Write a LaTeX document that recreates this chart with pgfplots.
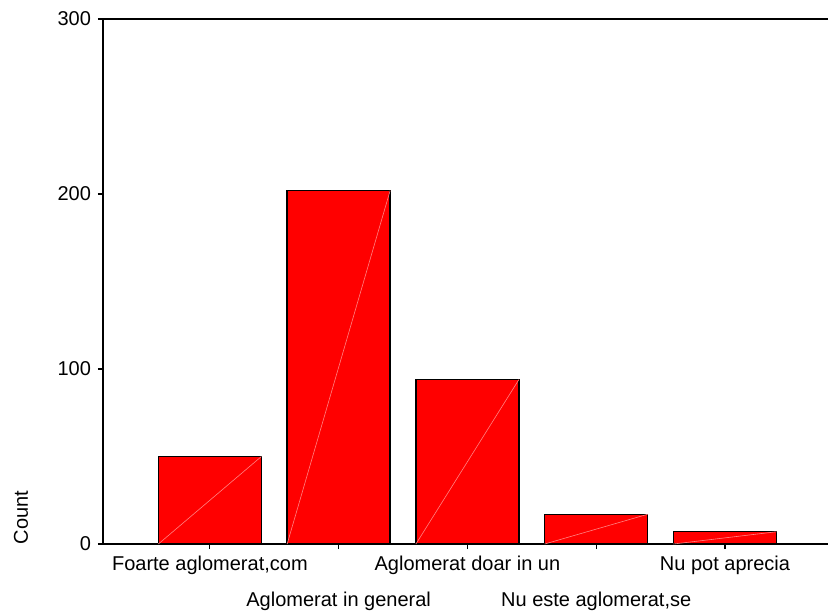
\documentclass[border=0pt]{standalone}
\usepackage{pgfplots}
\pgfplotsset{compat=1.18}
\usepackage{fontspec}
\setmainfont{Liberation Sans}
\begin{document}
\begin{tikzpicture}
\useasboundingbox (-51.5bp,-35bp) rectangle (362.5bp,272bp);
\begin{axis}[
  at={(0,0)}, anchor=south west,
  width=362.5bp, height=262.5bp, scale only axis,
  xmin=-0.83, xmax=4.80, ymin=0, ymax=300,
  axis x line*=bottom, axis y line*=left,
  axis line style={line width=0.8bp, -},
  xtick={0,1,2,3,4}, ytick={0,100,200,300},
  xticklabels={{Foarte aglomerat,com},{\\[13bp]Aglomerat in general},{Aglomerat doar in un},{\\[13bp]Nu este aglomerat,se},{Nu pot aprecia}},
  yticklabels={0,100,200,300},
  xticklabel style={font=\fontsize{10bp}{12bp}\selectfont, align=center},
  yticklabel style={font=\fontsize{10bp}{12bp}\selectfont},
  /pgf/number format/assume math mode=true,
  tick align=outside, major tick length=2.5bp,
  tick style={black, line width=0.6bp},
  ylabel={Count},
  ylabel style={font=\fontsize{10bp}{12bp}\selectfont, at={(ticklabel* cs:0.05,34bp)}},
  ybar, bar width=0.8,
]
\addplot[fill={rgb,255:red,255;green,0;blue,0}, draw=black, line width=0.7bp] coordinates {(0,50) (1,202) (2,94) (3,17) (4,7)};
\addplot[sharp plot, color={rgb,255:red,255;green,130;blue,130}, line width=0.3bp] coordinates {(-0.4,0) (0.4,50)};
\addplot[sharp plot, color={rgb,255:red,255;green,130;blue,130}, line width=0.3bp] coordinates {(0.6,0) (1.4,202)};
\addplot[sharp plot, color={rgb,255:red,255;green,130;blue,130}, line width=0.3bp] coordinates {(1.6,0) (2.4,94)};
\addplot[sharp plot, color={rgb,255:red,255;green,130;blue,130}, line width=0.3bp] coordinates {(2.6,0) (3.4,17)};
\addplot[sharp plot, color={rgb,255:red,255;green,130;blue,130}, line width=0.3bp] coordinates {(3.6,0) (4.4,7)};
\draw[line width=0.8bp] (rel axis cs:0,1) -- (rel axis cs:1,1);
\end{axis}
\end{tikzpicture}
\end{document}
